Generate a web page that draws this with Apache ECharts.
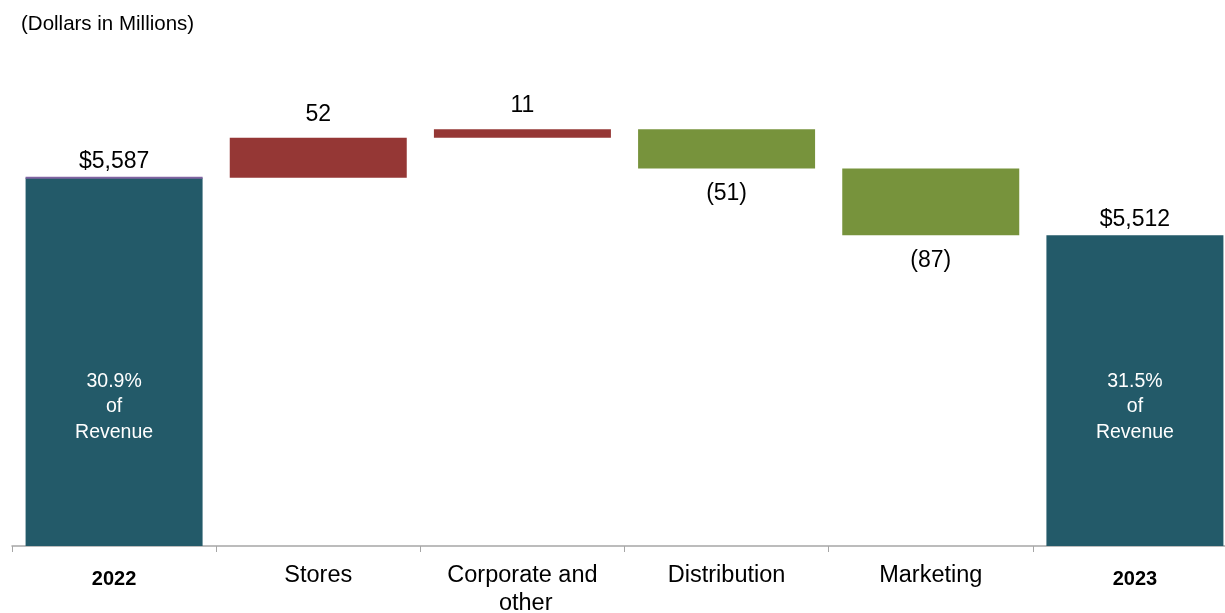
<!DOCTYPE html>
<html>
<head>
<meta charset="utf-8">
<title>Operating expense bridge 2022 to 2023</title>
<script src="https://cdn.jsdelivr.net/npm/echarts@6/dist/echarts.min.js"></script>
<style>
  html, body { margin: 0; padding: 0; background: #ffffff; overflow: hidden; }
  #chart { width: 1225px; height: 613px; }
</style>
</head>
<body>
<div id="chart"></div>
<script>
// Bridge categories, left to right
const categories = ['2022', 'Stores', 'Corporate and other', 'Distribution', 'Marketing', '2023'];
// Opening and closing totals (dollars in millions)
const startTotal = 5587;
const endTotal = 5512;
// Changes for the four middle steps
const changes = [52, 11, -51, -87];
// Share of revenue for the two total bars
const revenueShare = ['30.9%', '31.5%'];

const TEAL = '#235a69';
const RED = '#953735';
const GREEN = '#77933c';
const FONT = '"Liberation Sans", Arial, sans-serif';

// Waterfall pieces: invisible base, rising and falling segments
const base = ['-'];
const rise = ['-'];
const fall = ['-'];
let running = startTotal;
changes.forEach(function (d) {
  if (d >= 0) {
    base.push(running);
    rise.push(d);
    fall.push('-');
  } else {
    base.push(running + d);
    rise.push('-');
    fall.push(-d);
  }
  running += d;
});
base.push('-'); rise.push('-'); fall.push('-');

const totals = [startTotal, '-', '-', '-', '-', endTotal];
const deltaAt = ['-'].concat(changes).concat(['-']);

const money = function (v) { return '$' + v.toLocaleString('en-US'); };

const chart = echarts.init(document.getElementById('chart'));
chart.setOption({
  animation: false,
  backgroundColor: '#ffffff',
  textStyle: { fontFamily: FONT },
  title: {
    text: '(Dollars in Millions)',
    left: 21, top: 14, padding: 0,
    textStyle: { fontFamily: FONT, fontSize: 20.5, fontWeight: 'normal', color: '#000' }
  },
  grid: { left: 12, top: 60, width: 1225, bottom: 67, outerBoundsMode: 'none', containLabel: false },
  xAxis: {
    type: 'category',
    data: categories.map(function (c, i) {
      const isYear = (i === 0 || i === categories.length - 1);
      return isYear
        ? { value: c, textStyle: { fontWeight: 'bold', fontSize: 20, lineHeight: 34 } }
        : { value: c };
    }),
    axisLine: { lineStyle: { color: '#a6a6a6', width: 1.5 } },
    axisTick: { show: true, length: 6, lineStyle: { color: '#a6a6a6' } },
    axisLabel: {
      interval: 0, margin: 16, color: '#000', fontFamily: FONT,
      fontSize: 23.5, lineHeight: 28, width: 178, overflow: 'break'
    }
  },
  yAxis: { type: 'value', min: 5108, max: 5740, show: false },
  series: [
    {
      type: 'bar', stack: 'bridge', barWidth: 177, silent: true,
      itemStyle: { color: 'transparent' },
      data: base
    },
    {
      type: 'bar', stack: 'bridge', barWidth: 177,
      itemStyle: { color: TEAL },
      label: {
        show: true, position: 'insideBottom', distance: 101,
        color: '#fff', fontFamily: FONT, fontSize: 19.5, lineHeight: 25.5, align: 'center',
        formatter: function (p) {
          const share = p.dataIndex === 0 ? revenueShare[0] : revenueShare[1];
          return share + '\nof\nRevenue';
        }
      },
      data: totals
    },
    {
      type: 'bar', stack: 'bridge', barWidth: 177,
      itemStyle: { color: RED },
      label: {
        show: true, position: 'top', distance: 12,
        color: '#000', fontFamily: FONT, fontSize: 23,
        formatter: function (p) { return String(deltaAt[p.dataIndex]); }
      },
      data: rise
    },
    {
      type: 'bar', stack: 'bridge', barWidth: 177,
      itemStyle: { color: GREEN },
      label: {
        show: true, position: 'bottom', distance: 14,
        color: '#000', fontFamily: FONT, fontSize: 23,
        formatter: function (p) { return '(' + Math.abs(deltaAt[p.dataIndex]) + ')'; }
      },
      data: fall
    },
    {
      // Edge marker and value label on top of each total bar
      type: 'scatter', symbol: 'rect', symbolSize: [177, 2], z: 5, silent: true,
      itemStyle: { opacity: 1 },
      label: {
        show: true, position: 'top', distance: 3, opacity: 1,
        color: '#000', fontFamily: FONT, fontSize: 23,
        formatter: function (p) { return money(p.value); }
      },
      data: [
        { value: startTotal, itemStyle: { color: '#8064a2' } },
        '-', '-', '-', '-',
        { value: endTotal, itemStyle: { color: 'transparent' } }
      ]
    }
  ]
});
</script>
</body>
</html>
